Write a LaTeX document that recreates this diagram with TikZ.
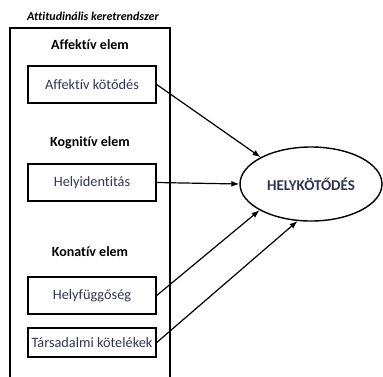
\documentclass[tikz,border=0pt]{standalone}
\usepackage{fontspec}
\setmainfont[Ligatures=NoCommon]{Carlito}
\usetikzlibrary{shapes.geometric,arrows.meta}
\definecolor{txt}{HTML}{2F3552}
\begin{document}
\begin{tikzpicture}[x=1pt,y=-1pt,
  box/.style={draw,line width=1.4pt,minimum width=128pt,minimum height=37pt,inner sep=0pt,font=\fontsize{14.3}{16}\selectfont,text=txt},
  head/.style={font=\bfseries\fontsize{14}{16}\selectfont},
  conn/.style={line width=1.2pt,-{Latex[length=8pt,width=6pt]}}]
\useasboundingbox (0,0) rectangle (383,376);
\node[font=\bfseries\itshape\fontsize{12}{14}\selectfont] (title) at (93,16) {Attitudinális keretrendszer};
\draw[line width=1.4pt] (10,380) -- (10,28) -- (170,28) -- (170,380);
\node[head] (h1) at (90,45) {Affektív elem};
\node[box] (b1) at (92,84.5) {Affektív kötődés};
\node[head] (h2) at (90,143) {Kognitív elem};
\node[box] (b2) at (92,182.5) {Helyidentitás};
\node[head] (h3) at (90,252) {Konatív elem};
\node[box] (b3) at (92,295.5) {Helyfüggőség};
\node[box,minimum height=29pt] (b4) at (92,342.5) {Társadalmi kötelékek};
\node[draw,ellipse,line width=1.4pt,minimum width=142pt,minimum height=74pt,inner sep=0pt,font=\bfseries\fontsize{15}{17}\selectfont,text=txt] (e) at (311,184) {HELYKÖTŐDÉS};
\draw[conn] (b1.east) -- (e.152);
\draw[conn] (b2.east) -- (e.west);
\draw[conn] (b3.east) -- (e.207);
\draw[conn] (b4.east) -- (e.250);
\end{tikzpicture}
\end{document}
